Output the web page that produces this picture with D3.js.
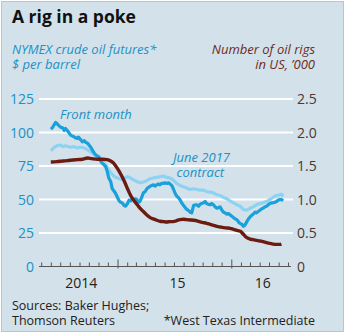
<!DOCTYPE html>
<html><head><meta charset="utf-8">
<script src="https://cdn.jsdelivr.net/npm/d3@7"></script>
<style>body{margin:0;background:#fff}svg{display:block}</style>
</head><body>
<script>
// ---- data ----
const frontMonth = [
["2014-06-01",102.5],["2014-06-06",103.5],["2014-06-11",105.5],["2014-06-16",107.5],["2014-06-20",106.8],["2014-06-25",105.5],
["2014-07-02",104],["2014-07-09",103.5],["2014-07-14",101.5],["2014-07-18",103],["2014-07-24",101.5],["2014-07-30",99.5],
["2014-08-04",98],["2014-08-08",97.5],["2014-08-13",97],["2014-08-19",96],["2014-08-25",95.5],["2014-08-29",96.5],
["2014-09-05",94.5],["2014-09-10",93],["2014-09-16",94],["2014-09-22",92.5],["2014-09-27",92],["2014-10-02",90.5],
["2014-10-07",89],["2014-10-12",87],["2014-10-17",85],["2014-10-22",83.5],["2014-10-28",82.5],["2014-11-02",82],
["2014-11-08",78.5],["2014-11-13",77],["2014-11-18",76],["2014-11-24",74.5],["2014-11-29",71],["2014-12-04",66],
["2014-12-10",63.5],["2014-12-15",58],["2014-12-20",56.5],["2014-12-26",54.5],["2015-01-01",51.5],["2015-01-06",49],
["2015-01-11",48],["2015-01-16",47.5],["2015-01-22",45.5],["2015-01-27",45],["2015-02-02",47],["2015-02-07",49.5],
["2015-02-12",49],["2015-02-17",51],["2015-02-22",50],["2015-02-28",50.5],["2015-03-04",50],["2015-03-09",48],
["2015-03-14",48.5],["2015-03-20",52],["2015-03-25",55],["2015-03-31",56],["2015-04-05",58],["2015-04-10",59],
["2015-04-16",60],["2015-04-21",60.5],["2015-04-26",61],["2015-05-02",60],["2015-05-07",61],["2015-05-12",61.5],
["2015-05-17",61],["2015-05-22",62],["2015-05-28",62],["2015-06-03",62.5],["2015-06-08",62],["2015-06-14",62.5],
["2015-06-19",61.5],["2015-06-24",60.5],["2015-06-29",58],["2015-07-05",54.5],["2015-07-10",52.5],["2015-07-15",51.5],
["2015-07-20",50],["2015-07-26",47.5],["2015-08-01",45.5],["2015-08-06",44],["2015-08-11",42.5],["2015-08-16",42],
["2015-08-22",40.5],["2015-08-27",40],["2015-09-02",45.5],["2015-09-07",46],["2015-09-13",46],["2015-09-18",45],
["2015-09-23",46.5],["2015-09-28",47],["2015-10-04",47.5],["2015-10-09",48.5],["2015-10-14",47],["2015-10-19",46.5],
["2015-10-25",46],["2015-10-30",47],["2015-11-05",46],["2015-11-10",44.5],["2015-11-16",43.5],["2015-11-21",44],
["2015-11-26",44.5],["2015-12-02",42],["2015-12-07",40.5],["2015-12-12",40],["2015-12-18",39],["2015-12-23",39.5],
["2015-12-28",38.5],["2016-01-03",37.5],["2016-01-08",36.5],["2016-01-14",35.5],["2016-01-19",35],["2016-01-25",33],
["2016-01-30",32],["2016-02-04",31.5],["2016-02-09",30],["2016-02-14",31],["2016-02-20",33.5],["2016-02-25",35.5],
["2016-03-01",37],["2016-03-06",38],["2016-03-11",39],["2016-03-17",40.5],["2016-03-22",40],["2016-03-27",41],
["2016-04-02",42],["2016-04-07",43],["2016-04-12",43.5],["2016-04-18",44.5],["2016-04-23",45],["2016-04-28",46],
["2016-05-04",47],["2016-05-09",47.5],["2016-05-14",47.5],["2016-05-20",48],["2016-05-25",48.5],["2016-05-30",49.5],
["2016-06-05",50],["2016-06-10",50],["2016-06-15",49]
];
const june2017 = [
["2014-06-01",86.5],["2014-06-08",88],["2014-06-16",89.5],["2014-06-24",90.5],["2014-07-02",90.5],["2014-07-10",89.5],
["2014-07-18",90],["2014-07-26",89.5],["2014-08-03",89],["2014-08-13",89.5],["2014-08-25",88.5],["2014-09-05",89],
["2014-09-16",88.5],["2014-09-27",87],["2014-10-07",85.5],["2014-10-17",83.5],["2014-10-28",81.5],["2014-11-08",79],
["2014-11-18",77.5],["2014-11-29",74],["2014-12-10",70],["2014-12-20",67.5],["2015-01-01",66],["2015-01-11",65],
["2015-01-22",66],["2015-02-02",67],["2015-02-12",66],["2015-02-22",64.5],["2015-03-04",63.5],["2015-03-14",62.5],
["2015-03-25",63],["2015-04-05",64],["2015-04-16",65.5],["2015-04-26",66],["2015-05-07",66.5],["2015-05-17",67],
["2015-05-28",67.5],["2015-06-08",66.5],["2015-06-19",66],["2015-06-29",64.5],["2015-07-10",62],["2015-07-20",60.5],
["2015-08-01",59.5],["2015-08-11",58.5],["2015-08-22",57.5],["2015-09-02",58],["2015-09-13",57.5],["2015-09-23",57],
["2015-10-04",57],["2015-10-14",56],["2015-10-25",55.5],["2015-11-05",55],["2015-11-16",53.5],["2015-11-26",53],
["2015-12-07",51.5],["2015-12-18",50.5],["2015-12-28",49],["2016-01-08",47.5],["2016-01-19",46],["2016-01-30",45],
["2016-02-09",42.5],["2016-02-20",42],["2016-03-01",43.5],["2016-03-11",44.5],["2016-03-22",46],["2016-04-02",47],
["2016-04-12",47.5],["2016-04-23",48.5],["2016-05-04",50],["2016-05-14",51.5],["2016-05-25",53],["2016-06-05",53.5],
["2016-06-10",54],["2016-06-15",52]
];
const oilRigs = [
["2014-06-01",1.56],["2014-06-20",1.565],["2014-07-10",1.575],["2014-07-25",1.58],["2014-08-10",1.59],["2014-08-25",1.595],
["2014-09-10",1.60],["2014-09-27",1.62],["2014-10-10",1.61],["2014-10-28",1.60],["2014-11-15",1.60],["2014-11-29",1.595],
["2014-12-10",1.575],["2014-12-20",1.54],["2015-01-01",1.46],["2015-01-11",1.38],["2015-01-22",1.28],["2015-02-02",1.16],
["2015-02-12",1.06],["2015-02-22",0.99],["2015-03-04",0.93],["2015-03-14",0.87],["2015-03-25",0.82],["2015-04-05",0.77],
["2015-04-16",0.73],["2015-04-26",0.71],["2015-05-07",0.69],["2015-05-17",0.675],["2015-05-28",0.67],["2015-06-08",0.665],
["2015-06-19",0.67],["2015-06-29",0.67],["2015-07-10",0.685],["2015-07-20",0.70],["2015-08-01",0.705],["2015-08-11",0.70],
["2015-08-22",0.695],["2015-09-02",0.69],["2015-09-13",0.68],["2015-09-23",0.665],["2015-10-04",0.655],["2015-10-14",0.645],
["2015-10-25",0.63],["2015-11-05",0.615],["2015-11-16",0.60],["2015-11-26",0.59],["2015-12-07",0.58],["2015-12-18",0.575],
["2015-12-28",0.57],["2016-01-08",0.555],["2016-01-19",0.54],["2016-01-30",0.525],["2016-02-09",0.48],["2016-02-20",0.43],
["2016-03-01",0.41],["2016-03-11",0.40],["2016-03-22",0.39],["2016-04-02",0.38],["2016-04-12",0.37],["2016-04-23",0.355],
["2016-05-04",0.345],["2016-05-14",0.335],["2016-05-25",0.33],["2016-06-05",0.33],["2016-06-10",0.335]
];
const leftTicks = [0,25,50,75,100,125];
const rightTicks = [0,0.5,1.0,1.5,2.0,2.5];
const rightTickLabels = ["0","0.5","1.0","1.5","2.0","2.5"];
const yearLabels = [["2014","2014-04-24","2015-01-01"],["15","2015-01-01","2016-01-01"],["16","2016-01-01","2016-07-01"]];
const title = "A rig in a poke";
const leftSub = ["NYMEX crude oil futures*","$ per barrel"];
const rightSub = ["Number of oil rigs","in US, \u2019000"];
const sources = ["Sources: Baker Hughes;","Thomson Reuters"];
const footnote = "*West Texas Intermediate";

// ---- drawing ----
const W=345,H=335;
const parse=d3.timeParse("%Y-%m-%d");
const font="'Open Sans', 'Noto Sans', sans-serif";
const cFront="#1aa0da", cJune="#8dd3f1", cRig="#6b1b10", cLabel="#2091c6", cBg="#d3e1ea";
const svg=d3.select("body").append("svg").attr("width",W).attr("height",H);
svg.append("rect").attr("x",1.5).attr("y",1.5).attr("width",W-3).attr("height",H-5)
  .attr("fill",cBg).attr("stroke","#b9c6ce").attr("stroke-width",1);

const x=d3.scaleTime().domain([parse("2014-04-24"),parse("2016-07-01")]).range([39,288]);
const yL=d3.scaleLinear().domain([0,125]).range([266.5,99]);
const yR=d3.scaleLinear().domain([0,2.5]).range([266.5,99]);

// gridlines
svg.append("g").selectAll("line").data(leftTicks.filter(d=>d>0)).join("line")
  .attr("x1",39).attr("x2",293).attr("y1",d=>yL(d)).attr("y2",d=>yL(d))
  .attr("stroke","#fff").attr("stroke-width",1.8);

// left labels
svg.append("g").selectAll("text").data(leftTicks).join("text")
  .attr("x",34).attr("y",d=>yL(d)+5).attr("text-anchor","end")
  .attr("font-family",font).attr("font-size",14).attr("fill",cLabel).text(d=>d);
// right labels
svg.append("g").selectAll("text").data(rightTicks).join("text")
  .attr("x",297).attr("y",d=>yR(d)+5).attr("text-anchor","start")
  .attr("font-family",font).attr("font-size",14).attr("fill","#4a3832").text((d,i)=>rightTickLabels[i]);

// x axis
const xAxis=d3.axisTop(x).ticks(d3.timeMonth.every(1)).tickSize(4).tickFormat("");
const ax=svg.append("g").attr("transform","translate(0,"+yL(0)+")").call(xAxis);
ax.select(".domain").attr("stroke","#555").attr("stroke-width",1).attr("d","M39,0H291");
ax.selectAll(".tick line").attr("stroke","#555")
  .attr("y1",d=>d.getMonth()===0?2:0).attr("y2",d=>d.getMonth()===0?-7:-4);
ax.selectAll(".tick").filter(d=>x(d)<40).remove();

svg.append("g").selectAll("text").data(yearLabels).join("text")
  .attr("x",d=>(x(parse(d[1]))+x(parse(d[2])))/2+3).attr("y",288)
  .attr("text-anchor","middle").attr("font-family",font).attr("font-size",14).attr("fill","#222").text(d=>d[0]);

// lines
const lineL=d3.line().x(d=>x(parse(d[0]))).y(d=>yL(d[1])).curve(d3.curveLinear);
const lineR=d3.line().x(d=>x(parse(d[0]))).y(d=>yR(d[1])).curve(d3.curveMonotoneX);
svg.append("path").datum(june2017).attr("d",lineL).attr("fill","none").attr("stroke",cJune).attr("stroke-width",3.2).attr("stroke-linejoin","round");
svg.append("path").datum(frontMonth).attr("d",lineL).attr("fill","none").attr("stroke",cFront).attr("stroke-width",3.2).attr("stroke-linejoin","round");
svg.append("path").datum(oilRigs).attr("d",lineR).attr("fill","none").attr("stroke",cRig).attr("stroke-width",3.4).attr("stroke-linejoin","round");

// annotations
svg.append("text").attr("x",60).attr("y",119).attr("font-family",font).attr("font-style","italic")
  .attr("font-size",13).attr("fill",cLabel).text("Front month");
svg.append("text").attr("x",173).attr("y",161.5).attr("font-family",font).attr("font-style","italic")
  .attr("font-size",13).attr("fill",cLabel).text("June 2017");
svg.append("text").attr("x",176.5).attr("y",176.5).attr("font-family",font).attr("font-style","italic")
  .attr("font-size",13).attr("fill",cLabel).text("contract");

// titles
svg.append("text").attr("x",12).attr("y",23).attr("font-family",font).attr("font-weight","bold")
  .attr("font-size",17.5).attr("fill","#111").text(title);
svg.append("g").selectAll("text").data(leftSub).join("text")
  .attr("x",12).attr("y",(d,i)=>54+i*15).attr("font-family",font).attr("font-style","italic")
  .attr("font-size",13).attr("fill",cLabel).text(d=>d);
svg.append("g").selectAll("text").data(rightSub).join("text")
  .attr("x",315).attr("y",(d,i)=>54+i*15).attr("text-anchor","end").attr("font-family",font).attr("font-style","italic")
  .attr("font-size",13).attr("fill","#6e2b20").text(d=>d);

// footer
svg.append("g").selectAll("text").data(sources).join("text")
  .attr("x",12).attr("y",(d,i)=>310+i*15).attr("font-family",font)
  .attr("font-size",12.5).attr("fill","#222").text(d=>d);
svg.append("text").attr("x",315).attr("y",325).attr("text-anchor","end").attr("font-family",font)
  .attr("font-size",12.5).attr("fill","#222").text(footnote);
</script>
</body></html>
